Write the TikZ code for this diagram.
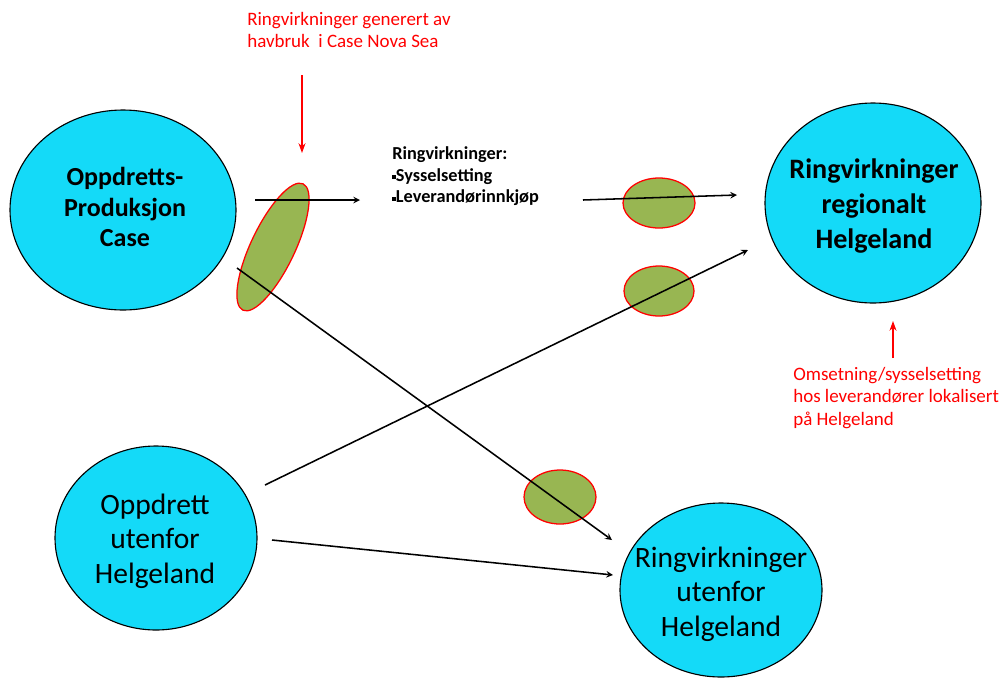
\documentclass[tikz,border=0pt]{standalone}
\usepackage{fontspec}
\setmainfont{Carlito}
\usetikzlibrary{calc,positioning,arrows.meta}
\definecolor{casecyan}{RGB}{20,218,248}
\definecolor{leakgreen}{RGB}{152,182,82}
\newcommand{\sqbul}{\raisebox{0.25ex}{\rule{2.6pt}{2.6pt}}}

\begin{document}
\begin{tikzpicture}[>=stealth, x=0.025cm, y=-0.025cm]

    % Styles
    \tikzset{
        bubble/.style={draw=black, fill=casecyan, line width=0.8pt},
        leak/.style={draw=red, fill=leakgreen, line width=0.9pt},
        flow/.style={->, line width=1.1pt},
        redflow/.style={-{Stealth[length=7pt,width=5pt]}, red, line width=0.9pt},
        boldtxt/.style={align=center, inner sep=0pt, font=\bfseries\fontsize{18.5}{21.7}\selectfont},
        bigtxt/.style={align=center, inner sep=0pt, font=\bfseries\fontsize{20}{25}\selectfont},
        plaintxt/.style={align=center, inner sep=0pt, font=\fontsize{21}{24.5}\selectfont},
        note/.style={align=left, inner sep=0pt, anchor=north west, text=red, font=\fontsize{13.5}{16}\selectfont},
        listtxt/.style={align=left, inner sep=0pt, anchor=north west, font=\bfseries\fontsize{13}{15.6}\selectfont}
    }

    \useasboundingbox (0,0) rectangle (1007,680);

    % Coordinates
    \coordinate (C1) at (123,210);    % case production
    \coordinate (C2) at (873,203);    % regional effects
    \coordinate (C3) at (156,538);    % farming outside
    \coordinate (C4) at (721,590);    % effects outside
    \coordinate (G1) at (273,247);    % tilted leak
    \coordinate (G2) at (659,203);
    \coordinate (G3) at (659,291);
    \coordinate (G4) at (560,497);

    % Big bubbles
    \draw[bubble] (C1) ellipse [x radius=113, y radius=100];
    \draw[bubble] (C2) ellipse [x radius=108, y radius=100];
    \draw[bubble] (C3) ellipse [x radius=101, y radius=92];
    \draw[bubble] (C4) ellipse [x radius=101, y radius=87];

    \node[boldtxt] (case) at (125,207) {Oppdretts-\\Produksjon\\Case};
    \node[bigtxt] (regional) at (874,206) {Ringvirkninger\\regionalt\\Helgeland};
    \node[plaintxt] (farmout) at (155,541) {Oppdrett\\utenfor\\Helgeland};
    \node[plaintxt] (effout) at (721,594) {Ringvirkninger\\utenfor\\Helgeland};

    % Green leak markers
    \draw[leak, rotate around={64.5:(G1)}] (G1) ellipse [x radius=70, y radius=22];
    \draw[leak] (G2) ellipse [x radius=36, y radius=25];
    \draw[leak] (G3) ellipse [x radius=35, y radius=25];
    \draw[leak] (G4) ellipse [x radius=36, y radius=27];

    % Texts
    \node[note] (topnote) at (247,12) {Ringvirkninger generert av\\havbruk\ \ i Case Nova Sea};
    \node[listtxt] (list) at (392,146) {Ringvirkninger:\\\sqbul Sysselsetting\\\sqbul Leverand\o rinnkj\o p};
    \node[note] (sidenote) at (793,367) {Omsetning/sysselsetting\\hos leverand\o rer lokalisert\\p\aa{} Helgeland};

    % Arrow ends
    \coordinate (a1) at (255,200);
    \coordinate (b1) at (360,200);
    \coordinate (a2) at (583,200);
    \coordinate (b2) at (737,195);
    \coordinate (a3) at (237,268);
    \coordinate (b3) at (612,540);
    \coordinate (a4) at (265,485);
    \coordinate (b4) at (748,250);
    \coordinate (a5) at (272,540);
    \coordinate (b5) at (613,575);
    \coordinate (r1) at (302,75);
    \coordinate (s1) at (302,153);
    \coordinate (r2) at (893,358);
    \coordinate (s2) at (893,321);

    % Flows
    \draw[flow] (a1) -- (b1);
    \draw[flow] (a2) -- (b2);
    \draw[flow] (a3) -- (b3);
    \draw[flow] (a4) -- (b4);
    \draw[flow] (a5) -- (b5);

    % Pointers
    \draw[redflow] (r1) -- (s1);
    \draw[redflow] (r2) -- (s2);

\end{tikzpicture}
\end{document}
